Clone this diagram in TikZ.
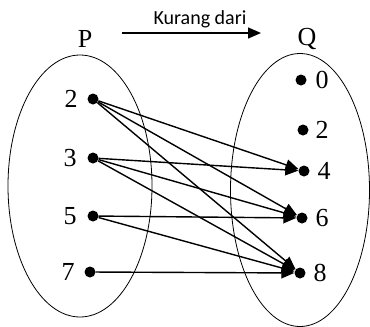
\documentclass[tikz,border=0pt]{standalone}
\usepackage{fontspec}
\setmainfont{Liberation Serif}
\newfontfamily\labelfont{Carlito}
\usetikzlibrary{arrows.meta}
\begin{document}
\begin{tikzpicture}[x=1pt,y=-1pt,
  dotnode/.style={circle,fill=black,inner sep=0pt,minimum size=11pt},
  numlbl/.style={font=\fontsize{26}{26}\selectfont,inner sep=0pt},
  setlbl/.style={font=\fontsize{26}{26}\selectfont,inner sep=0pt},
  maparrow/.style={line width=1.4pt,-{Triangle[length=13pt,width=11pt]}},
  setellipse/.style={line width=0.8pt}]
\useasboundingbox (0,0) rectangle (370,327);
% sets
\draw[setellipse] (80,186) ellipse [x radius=72, y radius=131];
\draw[setellipse] (300,190) ellipse [x radius=69.5, y radius=136.5];
% labels
\node[setlbl] (P) at (85,39) {P};
\node[setlbl] (Q) at (307,39) {Q};
\node[font=\labelfont\fontsize{20}{20}\selectfont,inner sep=0pt] (rel) at (200,19) {Kurang dari};
\coordinate (rs) at (122,33);
\coordinate (re) at (261,33);
\draw[maparrow] (rs) -- (re);
% left dots
\node[dotnode] (p2) at (93,99) {};
\node[dotnode] (p3) at (93,158) {};
\node[dotnode] (p5) at (93,216) {};
\node[dotnode] (p7) at (90,272) {};
\node[numlbl] at (71,99) {2};
\node[numlbl] at (70,158) {3};
\node[numlbl] at (70,216) {5};
\node[numlbl] at (68,272) {7};
% right dots
\node[dotnode] (q0) at (301,80) {};
\node[dotnode] (q2) at (303,130) {};
\node[dotnode] (q4) at (304,171) {};
\node[dotnode] (q6) at (302,218) {};
\node[dotnode] (q8) at (300,273) {};
\node[numlbl] at (322,80) {0};
\node[numlbl] at (322,130) {2};
\node[numlbl] at (324,171) {4};
\node[numlbl] at (322,218) {6};
\node[numlbl] at (320,273) {8};
% mappings
\draw[maparrow] (p2) -- (q4);
\draw[maparrow] (p2) -- (q6);
\draw[maparrow] (p2) -- (q8);
\draw[maparrow] (p3) -- (q4);
\draw[maparrow] (p3) -- (q6);
\draw[maparrow] (p3) -- (q8);
\draw[maparrow] (p5) -- (q6);
\draw[maparrow] (p5) -- (q8);
\draw[maparrow] (p7) -- (q8);
\end{tikzpicture}
\end{document}
